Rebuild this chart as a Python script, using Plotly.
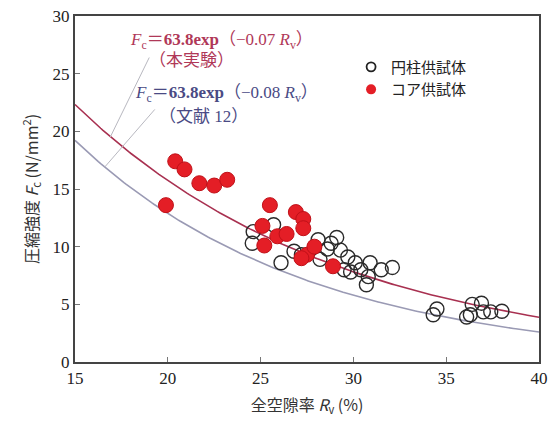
import numpy as np
import plotly.graph_objects as go

# Data
cyl_x = [24.6, 24.55, 25.7, 26.1, 26.8, 27.2, 28.1, 28.2, 28.6, 28.8, 29.1, 29.3, 29.5, 29.7, 29.85,
         30.1, 30.4, 30.8, 30.7, 30.9, 31.5, 32.1, 34.3, 34.5, 36.1, 36.3, 36.4, 36.9, 37.0, 37.4, 38.0]
cyl_y = [11.3, 10.3, 11.9, 8.6, 9.6, 9.3, 10.6, 8.9, 9.8, 10.3, 10.8, 9.7, 8.0, 9.1, 7.8,
         8.6, 8.0, 7.4, 6.7, 8.6, 8.0, 8.2, 4.1, 4.6, 3.9, 4.1, 5.0, 5.1, 4.35, 4.35, 4.4]

core_x = [19.9, 20.4, 20.9, 21.7, 22.5, 23.2, 25.5, 25.1, 25.2, 25.9, 26.4, 26.9, 27.3, 27.3,
          27.5, 27.9, 28.9, 27.2]
core_y = [13.6, 17.4, 16.7, 15.5, 15.3, 15.8, 13.6, 11.8, 10.1, 10.9, 11.1, 13.0, 12.4, 11.6,
          9.3, 10.0, 8.3, 9.0]

# Fitted relations shown on the chart: Fc = A * exp(-k * Rv)
fit_A = 63.8
fit_k_exp = 0.07   # 本実験
fit_k_ref = 0.08   # 文献 12

rv = np.linspace(15, 40, 200)

fig = go.Figure()

fig.add_trace(go.Scatter(x=rv, y=fit_A * np.exp(-fit_k_ref * rv), mode="lines",
                         line=dict(color="#9a9ab4", width=1.6), showlegend=False, hoverinfo="skip"))
fig.add_trace(go.Scatter(x=rv, y=fit_A * np.exp(-fit_k_exp * rv), mode="lines",
                         line=dict(color="#a83050", width=1.6), showlegend=False, hoverinfo="skip"))

fig.add_trace(go.Scatter(x=cyl_x, y=cyl_y, mode="markers", showlegend=False,
                         marker=dict(symbol="circle-open", size=14, color="#2a2a2a",
                                     line=dict(width=1.4, color="#2a2a2a"))))
fig.add_trace(go.Scatter(x=core_x, y=core_y, mode="markers", showlegend=False,
                         marker=dict(symbol="circle", size=15, color="#e41e26",
                                     line=dict(width=1, color="#c01018"))))

# legend-only entries
fig.add_trace(go.Scatter(x=[None], y=[None], mode="markers", name="円柱供試体",
                         marker=dict(symbol="circle-open", size=9, color="#222",
                                     line=dict(width=1.8, color="#222"))))
fig.add_trace(go.Scatter(x=[None], y=[None], mode="markers", name="コア供試体",
                         marker=dict(symbol="circle", size=10, color="#e41e26")))

serif = "Liberation Serif"
jp = "Noto Sans CJK JP"

ann = [
    dict(x=22.9, y=27.8, text="<i>F</i><sub>c</sub>＝<b>63.8exp</b>（−0.07 <i>R</i><sub>v</sub>）",
         color="#b03858"),
    dict(x=21.3, y=26.1, text="（本実験）", color="#b03858"),
    dict(x=23.15, y=23.2, text="<i>F</i><sub>c</sub>＝<b>63.8exp</b>（−0.08 <i>R</i><sub>v</sub>）",
         color="#4a4a84"),
    dict(x=21.9, y=21.3, text="（文献 12）", color="#4a4a84"),
]
for a in ann:
    fig.add_annotation(x=a["x"], y=a["y"], xref="x", yref="y", text=a["text"], showarrow=False,
                       xanchor="center", yanchor="middle",
                       font=dict(family=serif + ", " + jp, size=17, color=a["color"]))

fig.add_shape(type="line", x0=19.0, y0=26.4, x1=16.9, y1=19.5, xref="x", yref="y",
              line=dict(color="#b8b8c0", width=1))
fig.add_shape(type="line", x0=19.3, y0=21.9, x1=16.6, y1=16.9, xref="x", yref="y",
              line=dict(color="#b8b8c0", width=1))

axis_common = dict(showgrid=False, zeroline=False, showline=True, linecolor="#444444",
                   linewidth=2, mirror=True, ticks="inside", ticklen=5, tickcolor="#777777",
                   ticklabeloverflow="allow",
                   tickfont=dict(family=serif, size=17, color="#222222"))

fig.update_xaxes(range=[15, 40], dtick=5, **axis_common,
                 title=dict(text="全空隙率 <i>R</i><sub>v</sub> (%)",
                            font=dict(family=jp, size=16, color="#333333"), standoff=12))
fig.update_yaxes(range=[0, 30], dtick=5, **axis_common,
                 title=dict(text="圧縮強度 <i>F</i><sub>c</sub> (N/mm<sup>2</sup>)",
                            font=dict(family=jp, size=16, color="#333333"), standoff=10))

fig.update_layout(
    width=550, height=428,
    margin=dict(l=75, r=11, t=16, b=66, autoexpand=False),
    paper_bgcolor="white", plot_bgcolor="white",
    legend=dict(x=0.595, y=0.9, xanchor="left", yanchor="top",
                font=dict(family=jp, size=15, color="#222222"),
                bgcolor="rgba(255,255,255,0)", itemwidth=30, tracegroupgap=4),
)

fig.write_html("out.html")
